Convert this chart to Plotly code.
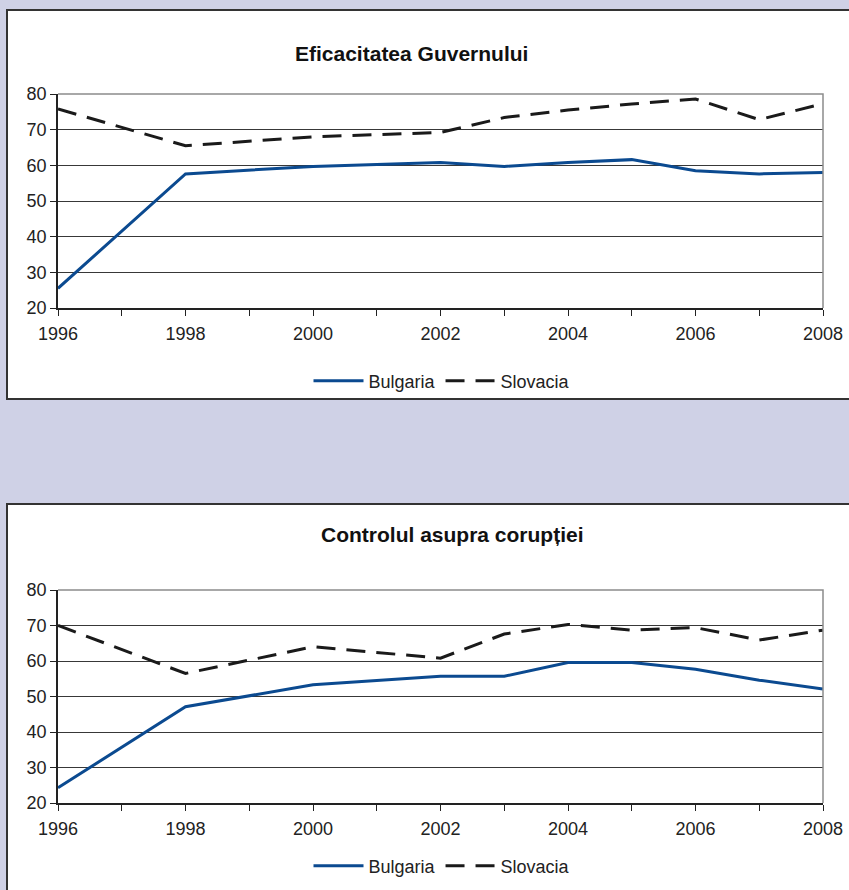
import plotly.graph_objects as go

# Governance indicators, percentile rank (0-100)
years = [1996, 1998, 2000, 2002, 2003, 2004, 2005, 2006, 2007, 2008]

gov_eff_bulgaria = [25.5, 57.6, 59.7, 60.8, 59.7, 60.8, 61.6, 58.5, 57.6, 58.0]
gov_eff_slovacia = [75.8, 65.5, 68.0, 69.2, 73.4, 75.5, 77.2, 78.6, 72.8, 77.3]

corruption_bulgaria = [24.3, 47.1, 53.3, 55.7, 55.7, 59.6, 59.6, 57.7, 54.6, 52.1]
corruption_slovacia = [70.0, 56.5, 64.0, 60.8, 67.6, 70.3, 68.7, 69.4, 65.9, 68.7]

panel_titles = ["Eficacitatea Guvernului", "Controlul asupra corupției"]
series_names = ["Bulgaria", "Slovacia"]

W, H = 849, 890
FONT = "Liberation Sans"
BG = "#cfd1e6"
NAVY = "#0b4a90"


def px_x(v):
    return v / W


def px_y(v):
    return 1 - v / H


fig = go.Figure()

panels = [
    dict(bg=gov_eff_bulgaria, sk=gov_eff_slovacia, xa="x", ya="y", legend="legend"),
    dict(bg=corruption_bulgaria, sk=corruption_slovacia, xa="x2", ya="y2", legend="legend2"),
]

for p in panels:
    fig.add_trace(go.Scatter(
        x=years, y=p["bg"], name=series_names[0], mode="lines",
        line=dict(color=NAVY, width=3), xaxis=p["xa"], yaxis=p["ya"],
        legend=p["legend"], hoverinfo="skip",
    ))
    fig.add_trace(go.Scatter(
        x=years, y=p["sk"], name=series_names[1], mode="lines",
        line=dict(color="#1a1a1a", width=3, dash="19px,11px"),
        xaxis=p["xa"], yaxis=p["ya"], legend=p["legend"], hoverinfo="skip",
    ))

xdom = [px_x(58), px_x(823)]
ydom_top = [px_y(308), px_y(94)]
ydom_bot = [px_y(803), px_y(590)]

axis_x = dict(
    range=[1996, 2008], dtick=2, tick0=1996, ticks="outside", ticklen=6,
    tickcolor="#222", showline=True, linecolor="#222", linewidth=1.5,
    showgrid=False, zeroline=False, domain=xdom, ticklabelstandoff=3,
    tickfont=dict(family=FONT, size=18, color="#222"),
    minor=dict(dtick=1, ticks="outside", ticklen=6, tickcolor="#222", showgrid=False),
)
axis_y = dict(
    range=[20, 80], dtick=10, ticks="outside", ticklen=6, tickcolor="#222",
    showline=True, linecolor="#222", linewidth=1.5, showgrid=True,
    gridcolor="#383838", gridwidth=1, zeroline=False,
    tickfont=dict(family=FONT, size=18, color="#222"),
)

legend_common = dict(orientation="h", xanchor="center", yanchor="middle",
                     bgcolor="rgba(0,0,0,0)", itemwidth=50,
                     font=dict(family=FONT, size=18, color="#222"))

fig.update_layout(
    width=W, height=H,
    margin=dict(l=0, r=0, t=0, b=0, pad=0, autoexpand=False),
    paper_bgcolor=BG, plot_bgcolor="white",
    xaxis=dict(axis_x, anchor="y"),
    yaxis=dict(axis_y, domain=ydom_top, anchor="x"),
    xaxis2=dict(axis_x, anchor="y2"),
    yaxis2=dict(axis_y, domain=ydom_bot, anchor="x2"),
    legend=dict(legend_common, x=px_x(442), y=px_y(381)),
    legend2=dict(legend_common, x=px_x(442), y=px_y(866)),
    showlegend=True,
)

# white chart panels with dark frames
for top, bottom in [(10, 399), (504, 905)]:
    fig.add_shape(type="rect", xref="paper", yref="paper",
                  x0=px_x(7), x1=px_x(870), y0=px_y(bottom), y1=px_y(top),
                  fillcolor="white", line=dict(color="#333", width=2), layer="below")

# grey frame on the top and right edges of each plot area
for ytop, ybot in [(94, 308), (590, 803)]:
    fig.add_shape(type="path", xref="paper", yref="paper",
                  path=f"M {px_x(58)} {px_y(ytop)} L {px_x(823)} {px_y(ytop)} "
                       f"L {px_x(823)} {px_y(ybot)}",
                  line=dict(color="#8c8c8c", width=1.5), layer="above")

fig.add_annotation(text="<b>" + panel_titles[0] + "</b>", xref="paper", yref="paper",
                   x=px_x(411), y=px_y(40), showarrow=False,
                   font=dict(family=FONT, size=21, color="#111"))
fig.add_annotation(text="<b>" + panel_titles[1] + "</b>", xref="paper", yref="paper",
                   x=px_x(452), y=px_y(534), showarrow=False,
                   font=dict(family=FONT, size=21, color="#111"))

fig.write_html("out.html")
